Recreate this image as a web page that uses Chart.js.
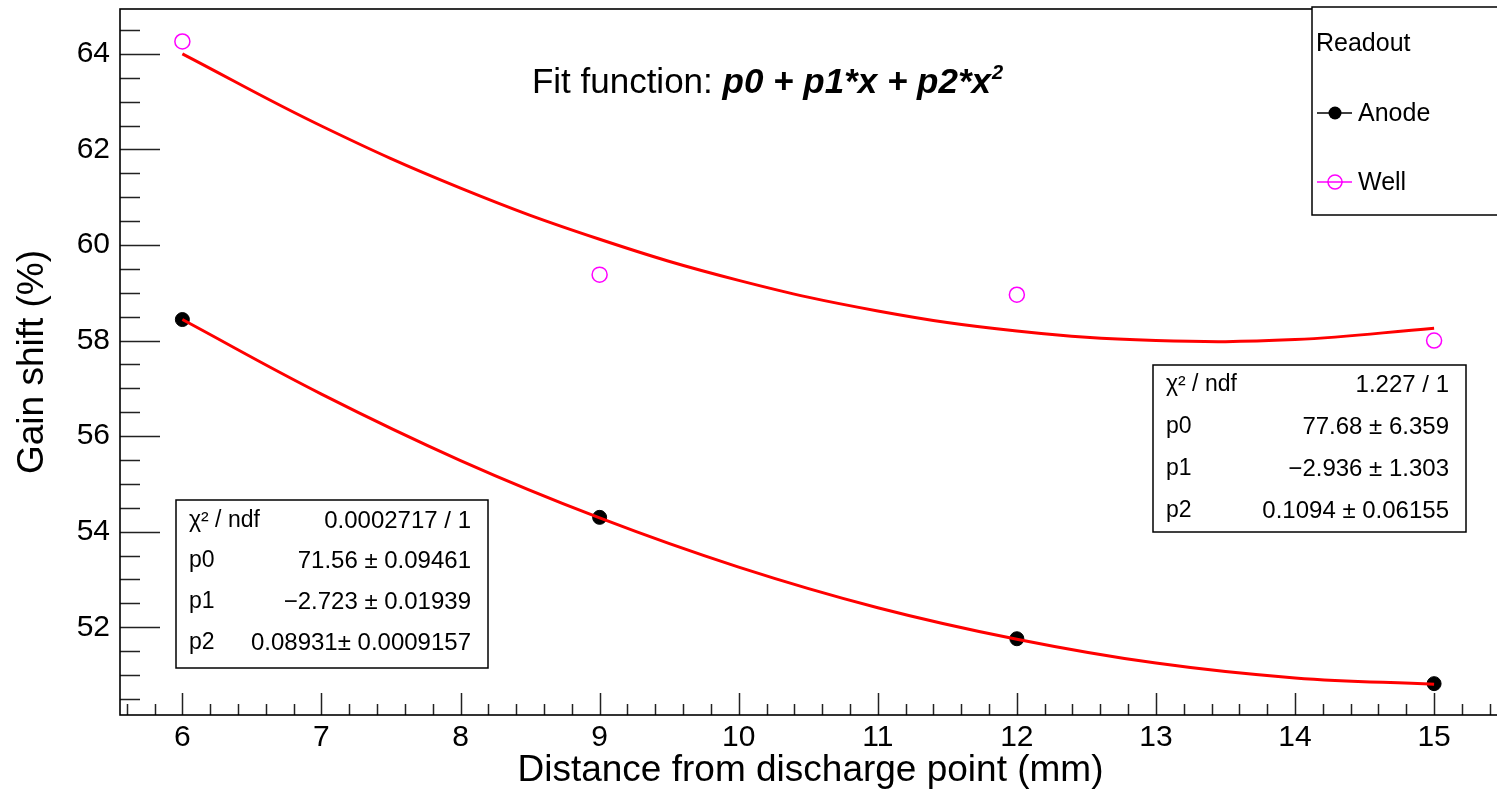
<!DOCTYPE html>
<html>
<head>
<meta charset="utf-8">
<script src="https://cdn.jsdelivr.net/npm/chart.js@4.4.1/dist/chart.umd.min.js"></script>
<style>
  html, body { margin: 0; padding: 0; background: #fff; overflow: hidden; }
  #wrap { position: relative; width: 1510px; height: 789px; }
</style>
</head>
<body>
<div id="wrap"><canvas id="chart"></canvas></div>
<script>
// measured points
const distances = [6, 9, 12, 15];
const anodeShift = [58.44, 54.30, 51.76, 50.82];
const wellShift = [64.26, 59.38, 58.96, 58.00];

// fitted curves
const fitX = [6, 7, 8, 9, 10, 11, 12, 13, 14, 15];
const anodeFit = [58.44, 56.88, 55.49, 54.29, 53.26, 52.41, 51.75, 51.25, 50.94, 50.81];
const wellFit = [64.00, 62.49, 61.19, 60.12, 59.26, 58.62, 58.20, 58.00, 58.02, 58.26];

const xTicks = [6, 7, 8, 9, 10, 11, 12, 13, 14, 15];
const yTicks = [52, 54, 56, 58, 60, 62, 64];

const anodeStats = [
  ["χ² / ndf", "0.0002717 / 1"],
  ["p0", "71.56 ± 0.09461"],
  ["p1", "−2.723 ± 0.01939"],
  ["p2", "0.08931± 0.0009157"]
];
const wellStats = [
  ["χ² / ndf", "1.227 / 1"],
  ["p0", "77.68 ± 6.359"],
  ["p1", "−2.936 ± 1.303"],
  ["p2", "0.1094 ± 0.06155"]
];

const FONT = '"Liberation Sans", Arial, Helvetica, sans-serif';
Chart.defaults.font.family = FONT;
Chart.defaults.color = "#000";

const pts = (xs, ys) => xs.map((x, i) => ({ x: x, y: ys[i] }));

// ROOT-like frame, inner ticks, title, legend and stat boxes
const rootDecor = {
  id: "rootDecor",
  afterDatasetsDraw(chart) {
    const ctx = chart.ctx;
    const a = chart.chartArea;
    const xs = chart.scales.x, ys = chart.scales.y;
    ctx.save();

    // ticks
    ctx.strokeStyle = "#222";
    ctx.lineWidth = 1.5;
    ctx.beginPath();
    for (let v = Math.ceil(xs.min * 5) / 5; v <= xs.max + 1e-9; v += 0.2) {
      const px = Math.round(xs.getPixelForValue(v)) + 0.5;
      const major = Math.abs(v - Math.round(v)) < 1e-6;
      ctx.moveTo(px, a.bottom);
      ctx.lineTo(px, a.bottom - (major ? 22 : 11));
    }
    for (let v = Math.ceil(ys.min * 2) / 2; v <= ys.max + 1e-9; v += 0.5) {
      const py = Math.round(ys.getPixelForValue(v)) + 0.5;
      const major = yTicks.some(t => Math.abs(t - v) < 1e-6);
      ctx.moveTo(a.left, py);
      ctx.lineTo(a.left + (major ? 40 : 20), py);
    }
    ctx.stroke();

    // frame
    ctx.strokeStyle = "#000";
    ctx.lineWidth = 1.6;
    ctx.strokeRect(a.left, a.top, a.right - a.left + 10, a.bottom - a.top);

    // title
    ctx.fillStyle = "#000";
    ctx.textBaseline = "alphabetic";
    ctx.textAlign = "left";
    const t1 = "Fit function: ", t2 = "p0 + p1*x + p2*x", t3 = "2";
    ctx.font = "35px " + FONT;
    const w1 = ctx.measureText(t1).width;
    ctx.font = "italic bold 35px " + FONT;
    const w2 = ctx.measureText(t2).width;
    ctx.font = "italic bold 20px " + FONT;
    const w3 = ctx.measureText(t3).width;
    let tx = 767 - (w1 + w2 + w3) / 2;
    ctx.font = "35px " + FONT;
    ctx.fillText(t1, tx, 93);
    tx += w1;
    ctx.font = "italic bold 35px " + FONT;
    ctx.fillText(t2, tx, 93);
    tx += w2;
    ctx.font = "italic bold 20px " + FONT;
    ctx.fillText(t3, tx + 1, 79);

    // legend
    ctx.fillStyle = "#fff";
    ctx.fillRect(1312, 7, 300, 208);
    ctx.strokeStyle = "#000";
    ctx.lineWidth = 1.5;
    ctx.strokeRect(1312, 7, 300, 208);
    ctx.fillStyle = "#000";
    ctx.font = "25px " + FONT;
    ctx.textBaseline = "middle";
    ctx.fillText("Readout", 1316, 44);
    const legendItems = chart.data.datasets.filter(d => d.legendRow !== undefined);
    legendItems.forEach(d => {
      const y = 113 + d.legendRow * 69;
      ctx.strokeStyle = d.borderColor;
      ctx.lineWidth = 1.5;
      ctx.beginPath();
      ctx.moveTo(1317, y);
      ctx.lineTo(1352, y);
      ctx.stroke();
      ctx.beginPath();
      ctx.arc(1335, y, d.pointRadius - 0.5, 0, Math.PI * 2);
      if (d.backgroundColor !== "transparent") {
        ctx.fillStyle = d.backgroundColor;
        ctx.fill();
      } else {
        ctx.fillStyle = "#fff";
        ctx.fill();
        ctx.stroke();
        ctx.beginPath();
        ctx.moveTo(1327, y);
        ctx.lineTo(1343, y);
        ctx.stroke();
      }
      ctx.fillStyle = "#000";
      ctx.font = "25px " + FONT;
      ctx.fillText(d.label, 1358, y + 1);
    });

    // stat boxes
    const statBox = (rows, x0, y0, x1, y1, rowY) => {
      ctx.fillStyle = "#fff";
      ctx.fillRect(x0, y0, x1 - x0, y1 - y0);
      ctx.strokeStyle = "#000";
      ctx.lineWidth = 1.5;
      ctx.strokeRect(x0, y0, x1 - x0, y1 - y0);
      ctx.fillStyle = "#000";
      ctx.textBaseline = "middle";
      rows.forEach((r, i) => {
        ctx.font = "23px " + FONT;
        ctx.textAlign = "left";
        ctx.fillText(r[0], x0 + 13, rowY[i]);
        ctx.font = "24px " + FONT;
        ctx.textAlign = "right";
        ctx.fillText(r[1], x1 - 17, rowY[i]);
      });
    };
    statBox(anodeStats, 176, 500, 488, 668, [521, 561, 602, 643]);
    statBox(wellStats, 1153, 365, 1466, 532, [385, 427, 469, 511]);

    ctx.restore();
  }
};

new Chart(document.getElementById("chart"), {
  type: "scatter",
  data: {
    datasets: [
      {
        label: "Anode fit",
        data: pts(fitX, anodeFit),
        showLine: true,
        borderColor: "#ff0000",
        borderWidth: 3,
        pointRadius: 0,
        tension: 0.4
      },
      {
        label: "Well fit",
        data: pts(fitX, wellFit),
        showLine: true,
        borderColor: "#ff0000",
        borderWidth: 3,
        pointRadius: 0,
        tension: 0.4
      },
      {
        label: "Anode",
        legendRow: 0,
        data: pts(distances, anodeShift),
        backgroundColor: "#000",
        borderColor: "#000",
        pointRadius: 7,
        pointBorderWidth: 1
      },
      {
        label: "Well",
        legendRow: 1,
        data: pts(distances, wellShift),
        backgroundColor: "transparent",
        borderColor: "#ff00ff",
        pointRadius: 7.5,
        pointBorderWidth: 1.5
      }
    ]
  },
  options: {
    responsive: true,
    maintainAspectRatio: false,
    animation: false,
    events: [],
    layout: { padding: { top: 7, right: 2, left: 0, bottom: 0 } },
    plugins: { legend: { display: false }, tooltip: { enabled: false } },
    scales: {
      x: {
        type: "linear",
        min: 5.5515,
        max: 15.481,
        grid: { display: false, drawTicks: false, tickLength: 0 },
        border: { display: false },
        ticks: { font: { size: 30 }, color: "#000", padding: 5, maxRotation: 0, autoSkip: false },
        afterBuildTicks: s => { s.ticks = xTicks.map(v => ({ value: v })); },
        afterFit: s => { s.height = 74; s.paddingLeft = 0; s.paddingRight = 0; },
        title: {
          display: true,
          text: "Distance from discharge point (mm)",
          font: { size: 37, lineHeight: 1 },
          color: "#000",
          padding: 0
        }
      },
      y: {
        type: "linear",
        min: 50.164,
        max: 64.939,
        grid: { display: false, drawTicks: false, tickLength: 0 },
        border: { display: false },
        ticks: { font: { size: 30 }, color: "#000", padding: 10 },
        afterBuildTicks: s => { s.ticks = yTicks.map(v => ({ value: v })); },
        afterFit: s => { s.width = 120; s.paddingTop = 0; s.paddingBottom = 0; },
        title: {
          display: true,
          text: "Gain shift (%)",
          font: { size: 37, lineHeight: 1 },
          color: "#000",
          padding: { top: 14, bottom: 0 }
        }
      }
    }
  },
  plugins: [rootDecor]
});
</script>
</body>
</html>
